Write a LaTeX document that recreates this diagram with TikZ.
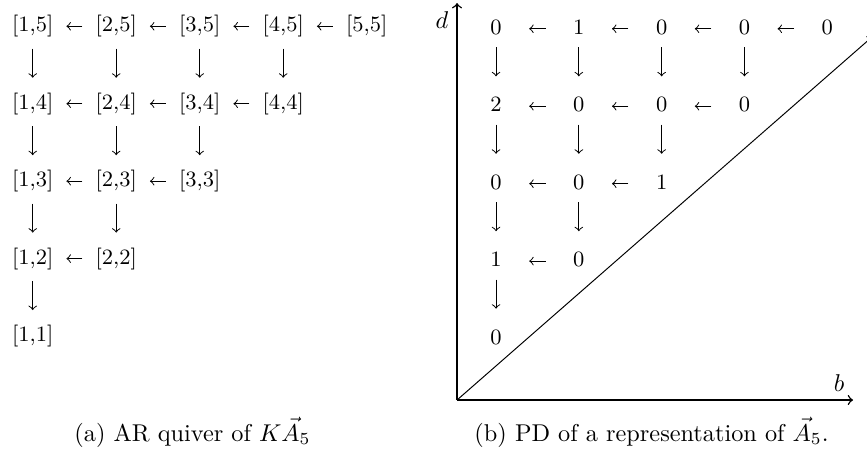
\documentclass[tikz,border=0pt]{standalone}
\begin{document}
\begin{tikzpicture}[line join=round,>=to,
		cell/.style={inner sep=0pt,minimum width=16.5pt,text height=6.75pt,text depth=2.25pt,font=\small},
		harr/.style={->,shorten <=5.2pt,shorten >=5.2pt},
		varr/.style={->,shorten <=4.5pt,shorten >=6pt},
		pvarr/.style={->,shorten <=2.9pt,shorten >=7.6pt}]
	\useasboundingbox (0,0) rectangle (12.539,6.552);
	\clip (0,0) rectangle (12.539,6.552);
	
	\foreach \r in {1,...,5}
		\foreach \c in {1,...,\r}
			\node[cell] (q\c\r) at ({0.473+1.2077*(\c-1)},{1.692+1.12*(\r-1)}) {[\c,\r]};
	
	\foreach \r in {2,...,5} {
		\pgfmathtruncatemacro\lo{\r-1}
		\foreach \c in {2,...,\r} {
			\pgfmathtruncatemacro\prev{\c-1}
			\draw[harr] (q\c\r) -- (q\prev\r);
		}
		\foreach \c in {1,...,\lo}
			\draw[varr] (q\c\r) -- (q\c\lo);
	}
	
	\foreach \c/\d/\m in {1/5/0,2/5/1,3/5/0,4/5/0,5/5/0,1/4/2,2/4/0,3/4/0,4/4/0,1/3/0,2/3/0,3/3/1,1/2/1,2/2/0,1/1/0}
		\node[cell] (p\c\d) at ({7.174+1.1975*(\c-1)},{1.656+1.12*(\d-1)}) {\m};
	
	\foreach \r in {2,...,5} {
		\pgfmathtruncatemacro\lo{\r-1}
		\foreach \c in {2,...,\r} {
			\pgfmathtruncatemacro\prev{\c-1}
			\draw[harr] (p\c\r) -- (p\prev\r);
		}
		\foreach \c in {1,...,\lo}
			\draw[pvarr] (p\c\r) -- (p\c\lo);
	}
	
	\coordinate (O) at (6.61,0.767);
	\coordinate (dtop) at (6.61,6.508);
	\coordinate (bend) at (12.337,0.767);
	\coordinate (diag) at (12.612,6.017);
	\draw[->,semithick] (O) -- (dtop) node[below left] (dlab) {$d$};
	\draw[->,semithick] (O) -- (bend) node[above left] (blab) {$b$};
	\draw[->] (O) -- (diag);
	
	\node[anchor=base] (capa) at (2.784,0.174) {(a) AR quiver of $K\vec{A}_5$};
	\node[anchor=base] (capb) at (9.423,0.174) {(b) PD of a representation of $\vec{A}_5$.};
\end{tikzpicture}
\end{document}
